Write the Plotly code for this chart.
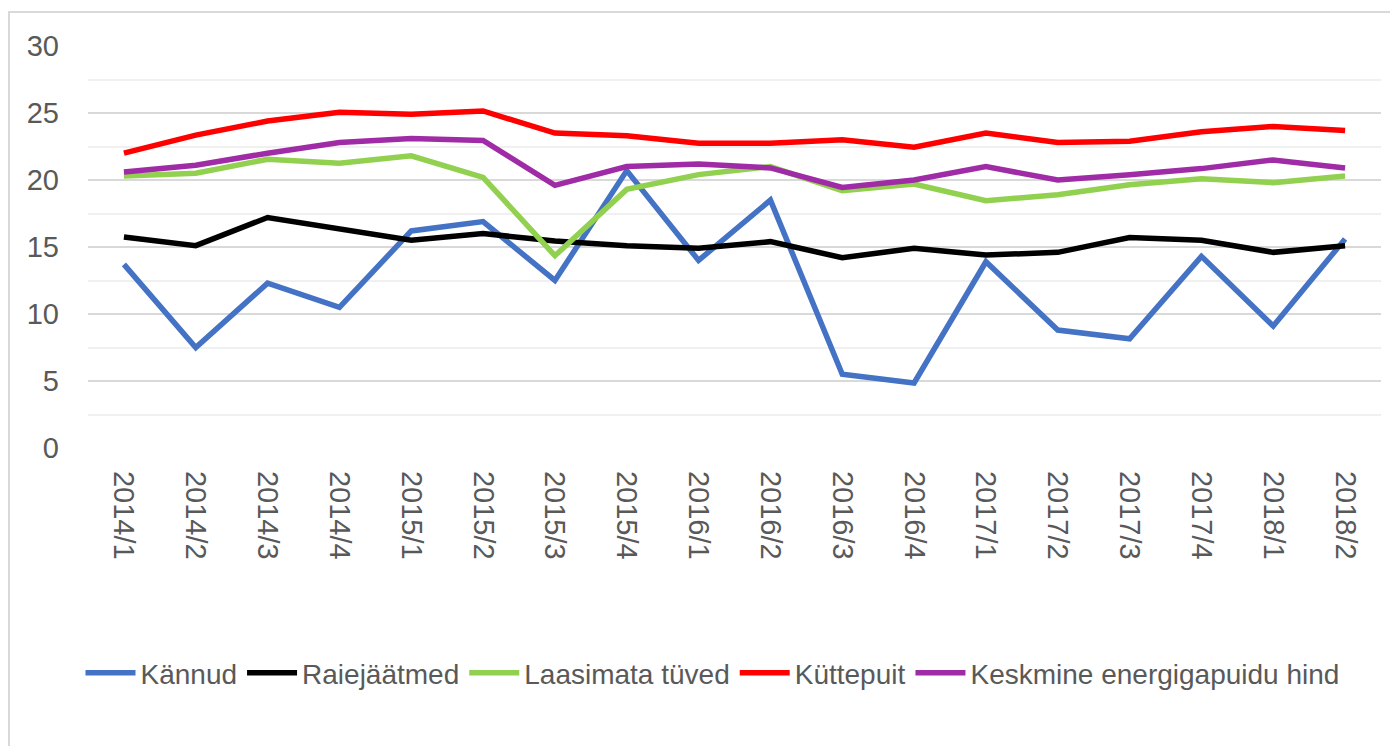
import plotly.graph_objects as go

categories = ["2014/1", "2014/2", "2014/3", "2014/4", "2015/1", "2015/2", "2015/3", "2015/4",
              "2016/1", "2016/2", "2016/3", "2016/4", "2017/1", "2017/2", "2017/3", "2017/4",
              "2018/1", "2018/2"]

kannud = [13.7, 7.5, 12.3, 10.5, 16.2, 16.9, 12.5, 20.7, 14.0, 18.5, 5.5, 4.85, 13.9, 8.8, 8.15, 14.3, 9.1, 15.6]
raiejaatmed = [15.75, 15.1, 17.2, 16.3, 15.5, 16.0, 15.45, 15.1, 14.9, 15.4, 14.2, 14.9, 14.4, 14.6, 15.7, 15.5, 14.6, 15.1]
laasimata = [20.3, 20.5, 21.55, 21.25, 21.8, 20.2, 14.35, 19.3, 20.4, 21.0, 19.2, 19.7, 18.45, 18.9, 19.65, 20.1, 19.8, 20.3]
kuttepuit = [22.0, 23.35, 24.4, 25.05, 24.9, 25.15, 23.5, 23.3, 22.75, 22.75, 23.0, 22.45, 23.5, 22.8, 22.9, 23.6, 24.0, 23.7]
keskmine = [20.6, 21.1, 22.0, 22.8, 23.1, 22.95, 19.6, 21.0, 21.2, 20.9, 19.45, 20.0, 21.0, 20.0, 20.4, 20.85, 21.5, 20.9]

y_ticks = [0, 5, 10, 15, 20, 25, 30]

series = [
    ("Kännud", kannud, "#4472C4"),
    ("Raiejäätmed", raiejaatmed, "#000000"),
    ("Laasimata tüved", laasimata, "#92D050"),
    ("Küttepuit", kuttepuit, "#FF0000"),
    ("Keskmine energigapuidu hind", keskmine, "#A02BA6"),
]

FONT = "Liberation Sans, Arial, sans-serif"

fig = go.Figure()
for name, vals, color in series:
    fig.add_trace(go.Scatter(
        x=categories, y=vals, name=name, mode="lines",
        line=dict(color=color, width=5.5),
    ))

# page body has an 8px margin, so the figure starts at (8, 8) in the window
W, H = 1390, 738
L, R, T, B = 80, 17, 38, 298
pw, ph = W - L - R, H - T - B

fig.update_layout(
    width=W, height=H,
    margin=dict(l=L, r=R, t=T, b=B),
    paper_bgcolor="white", plot_bgcolor="white",
    font=dict(family=FONT, size=29, color="#595959"),
    showlegend=True,
    legend=dict(
        orientation="h", x=0.5 - 22 / pw, xanchor="center",
        y=(ph - (665 - T)) / ph, yanchor="middle",
        font=dict(family=FONT, size=28, color="#595959"),
        itemwidth=50, tracegroupgap=0,
        bgcolor="rgba(0,0,0,0)",
    ),
    xaxis=dict(
        type="category", range=[-0.5, 17.5],
        tickangle=90, showgrid=False, zeroline=False, showline=False,
        ticks="", ticklabelstandoff=22,
        tickfont=dict(family=FONT, size=29, color="#595959"),
    ),
    yaxis=dict(
        range=[0, 30], tickvals=y_ticks, showgrid=True, gridcolor="#D9D9D9", gridwidth=1.5,
        zeroline=False, showline=False, ticks="", ticklabelstandoff=28,
        tickfont=dict(family=FONT, size=29, color="#595959"),
        minor=dict(dtick=2.5, tick0=0, showgrid=True, gridcolor="#F0F0F0", gridwidth=1.5),
    ),
)

# chart-area border (light gray, top and left edges visible)
fig.add_shape(
    type="rect", xref="paper", yref="paper",
    x0=(1 - L) / pw, x1=(W + 10 - L) / pw,
    y0=(ph - (H + 10 - T)) / ph, y1=(ph - (4 - T)) / ph,
    line=dict(color="#D9D9D9", width=2), fillcolor="rgba(0,0,0,0)", layer="below",
)

fig.write_html("out.html")
